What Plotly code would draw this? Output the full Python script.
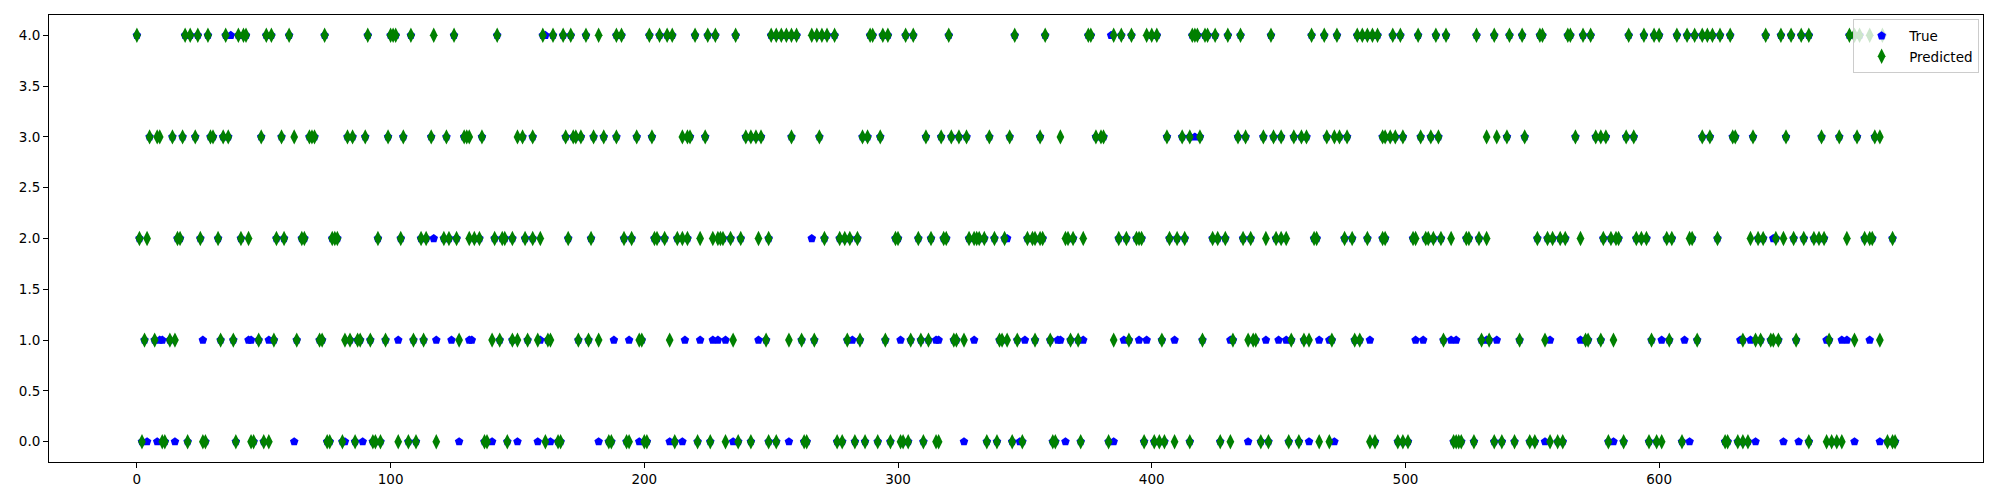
import plotly.graph_objects as go

# Predicted class per sample index (green thin diamonds), grouped by class
pred_class4 = [0, 19, 21, 24, 28, 35, 40, 42, 43, 51, 53,
               60, 74, 91, 100, 101, 102, 108, 117,
               125, 142, 160, 164, 168, 171, 177,
               182, 189, 191, 202, 206, 209, 211, 220, 225, 228, 236,
               250, 252, 254, 256, 258, 260, 266, 268, 270, 272, 275, 289, 290, 294, 296,
               303, 306, 320, 346, 358,
               375, 376, 385, 388, 392, 398, 400, 402, 416,
               417, 418, 421, 422, 425, 430, 435, 447, 463, 468, 473,
               481, 483, 485, 487, 489, 495, 498, 505, 512, 516, 528, 535,
               541, 546, 553, 554, 564, 565, 570, 573, 588, 594,
               598, 600, 607, 611, 614, 617, 619, 621, 624, 628, 642, 648, 652,
               656, 659, 675, 677, 679, 683, 688]
pred_class3 = [5, 8, 9, 14, 18, 23, 29, 30, 34, 36, 49, 57,
               62, 68, 69, 70, 83, 85, 90, 99, 105, 116,
               122, 129, 130, 131, 136, 150, 152, 156, 169, 172, 173, 175,
               180, 184, 189, 197, 203, 215, 217, 218, 224,
               240, 242, 244, 246, 258, 269, 286, 288, 293,
               311, 317, 321, 324, 327, 336, 344, 356,
               364, 378, 380, 381, 406, 412, 415,
               419, 434, 437, 444, 448, 451, 456, 459, 461, 469, 472, 474, 477,
               491, 492, 494, 496, 499, 506, 510, 513, 532, 536,
               540, 547, 567, 575, 577, 579, 587, 590,
               617, 620, 629, 630, 637, 650,
               664, 671, 678, 685, 687]
pred_class2 = [1, 4, 16, 17, 25, 32, 41, 44, 55, 58,
               65, 66, 77, 78, 79, 95, 104, 112, 114,
               121, 123, 126, 131, 133, 135, 141, 144, 145, 148, 153, 156, 159, 170,
               179, 192, 195, 204, 205, 208, 213, 215, 217, 222, 227, 229, 230, 231, 234,
               238, 245, 249, 271, 277, 279, 281, 284,
               299, 300, 308, 313, 318, 319, 328, 330, 331, 332, 334, 338, 342, 351, 353, 354, 356,
               357, 366, 367, 369, 373, 387, 390, 394, 395, 396, 407, 410, 413,
               424, 426, 429, 436, 439, 445, 449, 451, 453, 464, 465, 476,
               479, 485, 491, 492, 503, 504, 508, 509, 511, 514, 518, 524, 525, 529, 532,
               552, 556, 558, 561, 563, 569, 578, 581, 583, 584, 591, 593, 595,
               603, 605, 612, 613, 623, 636, 639, 641, 646, 649, 653,
               657, 661, 663, 665, 674, 681, 683, 684, 692]
pred_class1 = [3, 7, 13, 15, 33, 38, 48, 54,
               63, 72, 73, 82, 84, 87, 88, 92, 98, 109, 113,
               127, 140, 143, 148, 150, 154, 158, 162, 163, 174,
               178, 182, 198, 199, 210, 235,
               248, 257, 262, 267, 280, 285, 295,
               305, 309, 312, 322, 323, 326, 340, 341, 343, 347, 354,
               360, 368, 371, 385, 391, 404,
               420, 432, 438, 440, 441, 455, 460, 462, 471,
               480, 482, 515, 530, 533,
               545, 555, 571, 572, 577, 582,
               597, 604, 615, 633, 638, 640, 644, 645, 647, 654,
               667, 677, 687]
pred_class0 = [2, 10, 11, 20, 26, 27, 39, 45, 46, 50, 52,
               75, 76, 81, 86, 93, 94, 96, 103, 107, 110, 118,
               137, 138, 146, 161, 166, 167,
               186, 187, 193, 194, 200, 201, 212, 221, 226, 232, 237,
               242, 249, 252, 263, 264, 276, 278, 283, 287, 292, 297,
               301, 302, 304, 310, 315, 316, 335, 339, 345, 349,
               361, 362, 372, 383, 397, 401, 403, 405, 409, 415,
               427, 431, 443, 446, 454, 458, 466, 470,
               486, 488, 497, 499, 501, 519, 520, 521, 522, 527, 535,
               538, 543, 549, 551, 557, 560, 562, 580, 586,
               596, 599, 601, 609, 626, 627, 631, 633, 635,
               659, 666, 668, 670, 672, 690, 692, 693]

# True class where it differs from the prediction (blue pentagons left visible)
true_diff4 = [37, 161, 384]
true_diff3 = [417]
true_diff2 = [117, 266, 343, 645]
true_diff1 = [9, 10, 26, 44, 45, 52, 103, 118, 124, 131, 132, 159, 188, 194,
              216, 222, 227, 229, 232, 245, 282, 301, 315, 316, 330, 350, 363,
              364, 373, 389, 395, 398, 409, 431, 445, 450, 453, 466, 470, 486,
              504, 507, 518, 520, 532, 536, 557, 569, 601, 610, 632, 636, 666,
              672, 674, 683]
true_diff0 = [4, 8, 15, 62, 82, 89, 127, 140, 150, 158, 163, 182, 198, 210,
              215, 235, 257, 326, 348, 366, 385, 438, 462, 472, 555, 582, 612,
              638, 649, 655, 677, 687]

x_ticks = [0, 100, 200, 300, 400, 500, 600]
y_ticks = [0.0, 0.5, 1.0, 1.5, 2.0, 2.5, 3.0, 3.5, 4.0]

pred_groups = [(0, pred_class0), (1, pred_class1), (2, pred_class2),
               (3, pred_class3), (4, pred_class4)]
diff_groups = [(0, true_diff0), (1, true_diff1), (2, true_diff2),
               (3, true_diff3), (4, true_diff4)]

pred_x, pred_y = [], []
for cls, idxs in pred_groups:
    pred_x += idxs
    pred_y += [cls] * len(idxs)

diff_set = set(i for _, idxs in diff_groups for i in idxs)
true_x, true_y = [], []
for cls, idxs in diff_groups:
    true_x += idxs
    true_y += [cls] * len(idxs)
for x, y in zip(pred_x, pred_y):
    if x not in diff_set:
        true_x.append(x)
        true_y.append(y)

xmax = max(pred_x)
pad = 0.05 * xmax

fig = go.Figure()
fig.add_trace(go.Scatter(
    x=true_x, y=true_y, mode="markers", name="True",
    marker=dict(symbol="pentagon", size=9, color="#0000ff", line=dict(width=0)),
))
fig.add_trace(go.Scatter(
    x=pred_x, y=pred_y, mode="markers", name="Predicted",
    marker=dict(symbol="diamond-tall", size=11, color="#008000", line=dict(width=0)),
))

axis_common = dict(
    showgrid=False, zeroline=False, showline=True, mirror=True,
    linecolor="black", linewidth=1, ticks="outside", ticklen=5,
    tickwidth=1, tickcolor="black", automargin=False,
    tickfont=dict(family="DejaVu Sans", size=13.5, color="black"),
)
fig.update_xaxes(range=[-pad, xmax + pad], tickvals=x_ticks,
                 ticktext=[str(v) for v in x_ticks], **axis_common)
fig.update_yaxes(range=[-0.2, 4.2], tickvals=y_ticks,
                 ticktext=[f"{v:.1f}" for v in y_ticks], **axis_common)

# the page body adds an 8px margin, so the figure is sized to compensate
fig.update_layout(
    width=1984, height=484,
    margin=dict(l=41, r=9, t=7, b=30),
    plot_bgcolor="white", paper_bgcolor="white",
    font=dict(family="DejaVu Sans", size=13.5, color="black"),
    showlegend=True,
    legend=dict(x=0.998, y=0.99, xanchor="right", yanchor="top",
                bgcolor="rgba(255,255,255,0.8)", bordercolor="#cccccc",
                borderwidth=1, font=dict(size=13.5),
                tracegroupgap=2, itemwidth=45),
)

fig.write_html("out.html")
